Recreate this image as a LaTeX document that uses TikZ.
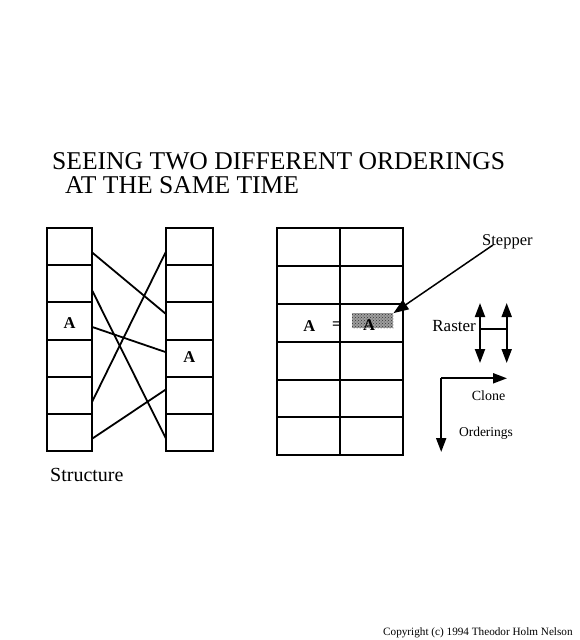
\documentclass[tikz,border=0pt]{standalone}
\usepackage{fontspec}
\setmainfont{Liberation Serif}
\usetikzlibrary{arrows.meta,patterns}
\newcommand{\fs}[1]{\fontsize{#1}{#1}\selectfont}
\begin{document}
\begin{tikzpicture}[x=1pt,y=-1pt,
  cell/.style={draw, line width=2pt, inner sep=0pt, outer sep=0pt},
  link/.style={line width=1.8pt},
  tip/.style={-{Triangle[length=14pt,width=10pt]}},
  lbl/.style={inner sep=0pt, font=\fs{14}},
  letter/.style={font=\fs{16.5}\bfseries, inner sep=0pt}
]
\useasboundingbox (0,0) rectangle (580,640);
\fill[white] (0,0) rectangle (580,640);

% title
\node[anchor=base west, inner sep=0pt, font=\fs{25.6}] (t1) at (52,169.3) {SEEING TWO DIFFERENT ORDERINGS};
\node[anchor=base west, inner sep=0pt, font=\fs{25.6}] (t2) at (65,193.3) {AT THE SAME TIME};

% left column
\foreach \i in {1,...,6}{
  \node[cell, minimum width=45pt, minimum height=37.2pt] (L\i) at (69.8,{228+37.2*(\i-0.5)}) {};
}
\node[letter] (LA) at (69.5,323.5) {A};
% middle column
\foreach \i in {1,...,6}{
  \node[cell, minimum width=46.7pt, minimum height=37.2pt] (M\i) at (189.3,{228+37.2*(\i-0.5)}) {};
}
\node[letter] (MA) at (189.3,357.3) {A};

% structure links
\draw[link] ([yshift=-6pt]L1.east) -- ([yshift=7pt]M3.west);
\draw[link] ([yshift=-7pt]L2.east) -- ([yshift=-6pt]M6.west);
\draw[link] ([yshift=-6pt]L3.east) -- ([yshift=6pt]M4.west);
\draw[link] ([yshift=-6pt]L5.east) -- ([yshift=-5pt]M1.west);
\draw[link] ([yshift=-6pt]L6.east) -- ([yshift=6pt]M5.west);

\node[anchor=base west, inner sep=0pt, font=\fs{20}] (structure) at (50,481) {Structure};

% right grid
\foreach \i in {1,...,6}{
  \node[cell, minimum width=63.3pt, minimum height=37.8pt] (Ra\i) at (308.3,{228.3+37.8*(\i-0.5)}) {};
  \node[cell, minimum width=62.7pt, minimum height=37.8pt] (Rb\i) at (371.3,{228.3+37.8*(\i-0.5)}) {};
}
\node[letter] (RA) at (309.3,326) {A};
\node[letter] (eq) at (336.7,325.5) {=};
\node[fill=black!38, postaction={pattern=crosshatch dots, pattern color=black!80}, minimum width=41.6pt, minimum height=15pt, inner sep=0pt] (hatch) at (372.5,320.8) {};
\node[letter] (RA2) at (369,325) {A};

% stepper
\node[anchor=base west, inner sep=0pt, font=\fs{16.5}] (stepper) at (482,245) {Stepper};
\coordinate (stepstart) at (493,245);
\draw[line width=1.5pt, -{Triangle[length=15pt,width=11pt]}] (stepstart) -- (hatch.north east);

% raster
\node[lbl, font=\fs{17}, anchor=base east] (raster) at (476,331) {Raster};
\coordinate (r1t) at (480,303);
\coordinate (r1b) at (480,363);
\coordinate (r2t) at (506.7,303);
\coordinate (r2b) at (506.7,363);
\coordinate (h1) at (480,329.3);
\coordinate (h2) at (506.7,329.3);
\draw[line width=2pt, {Triangle[length=14pt,width=10pt]}-{Triangle[length=14pt,width=10pt]}] (r1t) -- (r1b);
\draw[line width=2pt, {Triangle[length=14pt,width=10pt]}-{Triangle[length=14pt,width=10pt]}] (r2t) -- (r2b);
\draw[line width=1.8pt] (h1) -- (h2);

% clone / orderings
\coordinate (corner) at (441.2,378.3);
\coordinate (cloneend) at (507,378.3);
\coordinate (ordend) at (441.2,452);
\draw[line width=2pt, tip] (corner) -- (cloneend);
\draw[line width=2pt, tip] (corner) -- (ordend);
\node[lbl, font=\fs{14}] (clone) at (488.5,396) {Clone};
\node[lbl, font=\fs{13.5}] (orderings) at (486,433) {Orderings};

% copyright
\node[anchor=base west, inner sep=0pt, font=\fs{11.2}] (copy) at (383,635) {Copyright (c) 1994 Theodor Holm Nelson};
\end{tikzpicture}
\end{document}
